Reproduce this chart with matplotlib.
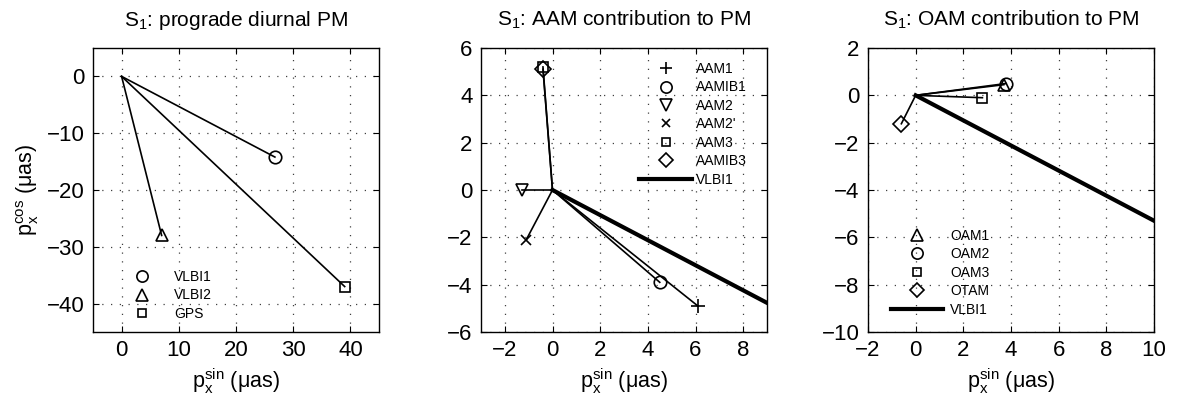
import matplotlib.pyplot as plt
from matplotlib.lines import Line2D

plt.rcParams['font.family'] = ['Liberation Sans', 'DejaVu Sans']
plt.rcParams['mathtext.fontset'] = 'custom'
plt.rcParams['mathtext.rm'] = 'Liberation Sans'
plt.rcParams['mathtext.it'] = 'Liberation Sans'

# panel 1: prograde diurnal PM (sin, cos) in uas
pm_names = ['VLBI1', 'VLBI2', 'GPS']
pm_sin = [26.8, 7.0, 39.0]
pm_cos = [-14.2, -28.0, -37.0]
pm_markers = ['o', '^', 's']

# panel 2: AAM contributions
aam_names = ['AAM1', 'AAMIB1', 'AAM2', "AAM2'", 'AAM3', 'AAMIB3']
aam_sin = [6.1, 4.5, -1.3, -1.1, -0.4, -0.4]
aam_cos = [-4.9, -3.9, 0.0, -2.1, 5.2, 5.1]
aam_markers = ['+', 'o', 'v', 'x', 's', 'D']

# panel 3: OAM contributions
oam_names = ['OAM1', 'OAM2', 'OAM3', 'OTAM']
oam_sin = [3.7, 3.8, 2.8, -0.6]
oam_cos = [0.45, 0.5, -0.1, -1.2]
oam_markers = ['^', 'o', 's', 'D']

# VLBI1 reference phasor (same as panel 1)
vlbi1 = (26.8, -14.2)

fig = plt.figure(figsize=(11.77, 4.08), dpi=100)
w, h = 286 / 1177, 284 / 408
b = 76 / 408
ax1 = fig.add_axes([93 / 1177, b, w, h])
ax2 = fig.add_axes([481 / 1177, b, w, h])
ax3 = fig.add_axes([868 / 1177, b, w, h])


def msize(m):
    return {'+': 10, 'x': 7, 'D': 8, 's': 7}.get(m, 9)


def phasors(ax, xs, ys, markers, names, lw=1.2):
    handles = []
    for x, y, m, n in zip(xs, ys, markers, names):
        ax.plot([0, x], [0, y], color='k', lw=lw, zorder=3)
        ax.plot(x, y, m, ms=msize(m), mfc='none', mec='k', mew=1.2, zorder=4)
        handles.append(Line2D([], [], ls='none', marker=m, ms=msize(m) * 0.9,
                              mfc='none', mec='k', mew=1.2, label=n))
    return handles


def style(ax, xlim, ylim, xt, yt):
    ax.set_xlim(xlim)
    ax.set_ylim(ylim)
    ax.set_xticks(xt)
    ax.set_yticks(yt)
    ax.grid(True, ls=(0, (1, 6)), color='0.25', lw=0.9)
    ax.tick_params(direction='in', top=True, right=True, labelsize=16, length=4, pad=6)
    for s in ax.spines.values():
        s.set_linewidth(1.0)
    ax.set_xlabel(r'p$_x^{\rm sin}$ ($\mu$as)', fontsize=15.5, labelpad=4)


leg_kw = dict(frameon=False, fontsize=10, labelspacing=0.32, borderpad=0.2)

h1 = phasors(ax1, pm_sin, pm_cos, pm_markers, pm_names)
style(ax1, (-5, 45), (-45, 5), [0, 10, 20, 30, 40], [0, -10, -20, -30, -40])
ax1.set_ylabel(r'p$_x^{\rm cos}$ ($\mu$as)', fontsize=15.5)
ax1.set_title(r'S$_1$: prograde diurnal PM', fontsize=15, pad=16)
ax1.legend(handles=h1, loc='lower left', bbox_to_anchor=(0.09, 0.005),
           handletextpad=1.3, **leg_kw)

ax2.plot([0, vlbi1[0]], [0, vlbi1[1]], color='k', lw=3, zorder=3)
h2 = phasors(ax2, aam_sin, aam_cos, aam_markers, aam_names)
h2.append(Line2D([], [], color='k', lw=3, label='VLBI1'))
style(ax2, (-3, 9), (-6, 6), [-2, 0, 2, 4, 6, 8], [-6, -4, -2, 0, 2, 4, 6])
ax2.set_title(r'S$_1$: AAM contribution to PM', fontsize=15, pad=16)
ax2.legend(handles=h2, loc='upper left', bbox_to_anchor=(0.52, 0.985),
           handletextpad=0.3, handlelength=3.8, **leg_kw)

ax3.plot([0, vlbi1[0]], [0, vlbi1[1]], color='k', lw=3, zorder=3)
h3 = phasors(ax3, oam_sin, oam_cos, oam_markers, oam_names)
h3.append(Line2D([], [], color='k', lw=3, label='VLBI1'))
style(ax3, (-2, 10), (-10, 2), [-2, 0, 2, 4, 6, 8, 10], [-10, -8, -6, -4, -2, 0, 2])
ax3.set_title(r'S$_1$: OAM contribution to PM', fontsize=15, pad=16)
ax3.legend(handles=h3, loc='lower left', bbox_to_anchor=(0.045, 0.02),
           handletextpad=0.5, handlelength=3.8, **leg_kw)

fig.savefig('out.png', dpi=100)
